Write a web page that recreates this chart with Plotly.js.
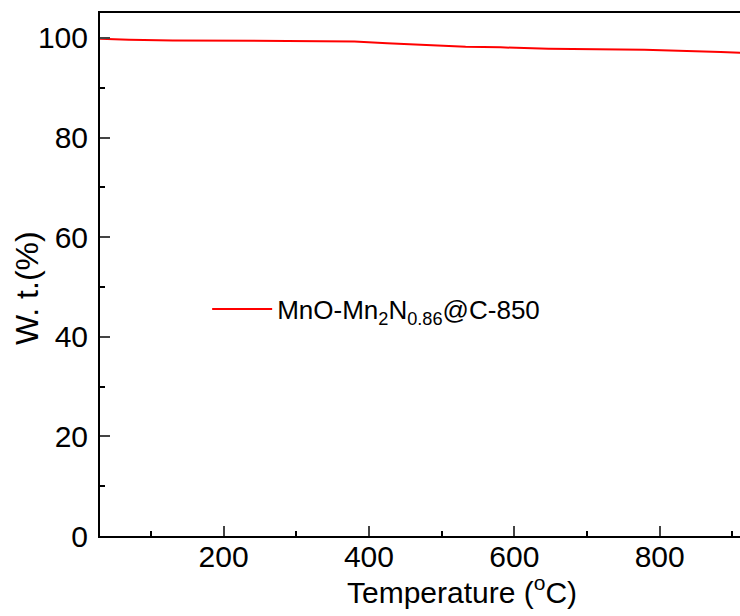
<!DOCTYPE html>
<html>
<head>
<meta charset="utf-8">
<script src="https://cdn.plot.ly/plotly-3.0.1.min.js"></script>
<style>
html, body { margin:0; padding:0; background:#fff; overflow:hidden; width:740px; height:616px; }
#wrap { width:740px; height:616px; overflow:hidden; }
#chart { width:830px; height:616px; }
</style>
</head>
<body>
<div id="wrap"><div id="chart"></div></div>
<script>
// Temperature (°C) and weight (%)
const temperature = [30, 60, 70, 130, 200, 313, 380, 425, 459, 533, 581, 647, 779, 856, 884, 911];
const weight = [99.85, 99.8, 99.65, 99.5, 99.47, 99.44, 99.3, 98.95, 98.75, 98.23, 98.1, 97.83, 97.63, 97.35, 97.15, 97.0];
const seriesName = 'MnO-Mn<sub>2</sub>N<sub>0.86</sub>@C-850';
const xTicks = [200, 400, 600, 800];
const yTicks = [0, 20, 40, 60, 80, 100];
const xTitle = 'Temperature (<sup>o</sup>C)';
const yTitle = 'W. t.(%)';

const font = 'Arial, "Liberation Sans", sans-serif';

const traces = [{
  x: temperature, y: weight, type: 'scatter', mode: 'lines',
  name: seriesName,
  line: {color: '#ff0000', width: 2}
}];

const layout = {
  width: 830, height: 616,
  margin: {l: 100, r: 6, t: 13, b: 80},
  paper_bgcolor: '#fff', plot_bgcolor: '#fff',
  font: {family: font, color: '#000', size: 30},
  showlegend: true,
  legend: {x: 0.148, y: 0.434, xanchor: 'left', yanchor: 'middle', bgcolor: 'rgba(0,0,0,0)',
           font: {family: font, size: 26, color: '#000'}, itemwidth: 60},
  xaxis: {
    range: [30, 1026], tickvals: xTicks, ticks: 'inside', ticklen: 10, tickwidth: 2,
    showline: true, linewidth: 2, linecolor: '#000', mirror: true, showgrid: false, zeroline: false,
    tickfont: {size: 30}, ticklabelstandoff: -7, automargin: false,
    minor: {dtick: 100, tick0: 0, ticks: 'inside', ticklen: 5, tickwidth: 2, tickcolor: '#000', showgrid: false}
  },
  yaxis: {
    range: [0, 105], tickvals: yTicks, ticks: 'inside', ticklen: 10, tickwidth: 2,
    showline: true, linewidth: 2, linecolor: '#000', mirror: true, showgrid: false, zeroline: false,
    tickfont: {size: 30}, ticklabelstandoff: 4, automargin: false,
    minor: {dtick: 10, tick0: 0, ticks: 'inside', ticklen: 5, tickwidth: 2, tickcolor: '#000', showgrid: false}
  },
  annotations: [
    {text: xTitle, xref: 'paper', yref: 'paper', x: 0.5, y: -0.065, xanchor: 'center', yanchor: 'top',
     showarrow: false, font: {size: 30, color: '#000'}, borderpad: 0},
    {text: yTitle, xref: 'paper', yref: 'paper', x: -0.1008, y: 0.474, xanchor: 'center', yanchor: 'middle',
     textangle: -90, showarrow: false, font: {size: 32, color: '#000'}, borderpad: 0}
  ]
};

Plotly.newPlot('chart', traces, layout, {displayModeBar: false, staticPlot: true});
</script>
</body>
</html>
